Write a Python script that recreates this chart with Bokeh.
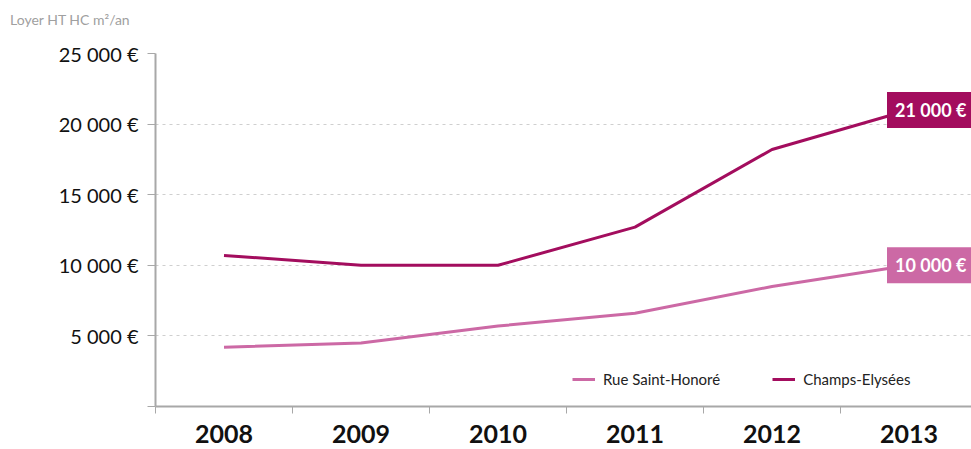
from bokeh.plotting import figure
from bokeh.layouts import column
from bokeh.models import (ColumnDataSource, FixedTicker, Range1d, Label, Legend, LegendItem, Div)
from bokeh.embed import file_html
from bokeh.resources import INLINE

years = ["2008", "2009", "2010", "2011", "2012", "2013"]
saint_honore = [4200, 4500, 5700, 6600, 8500, 10000]
champs_elysees = [10700, 10000, 10000, 12700, 18200, 21000]
y_ticks = [0, 5000, 10000, 15000, 20000, 25000]
y_tick_labels = ["", "5 000 €", "10 000 €", "15 000 €", "20 000 €", "25 000 €"]
end_labels = ["10 000 €", "21 000 €"]
y_axis_title = "Loyer HT HC m²/an"

DARK = "#A30D5E"
PINK = "#CC69A5"
FONT = "Lato"

xs = list(range(len(years)))

header = Div(text=('<div style="font-family:Lato;font-size:14px;color:#A0A0A0;'
                   'padding:11px 0 0 10px;line-height:17px;white-space:nowrap;">'
                   + y_axis_title + '</div>'),
             width=971, height=35, margin=0)

p = figure(width=971, height=414, output_backend="svg", toolbar_location=None,
           x_range=Range1d(-0.5, -0.5 + 816 / 137), y_range=Range1d(0, 25000),
           min_border_left=155, min_border_right=0, min_border_top=18, min_border_bottom=43,
           margin=0)
p.outline_line_color = None
p.background_fill_color = "white"

src = ColumnDataSource(dict(x=xs, sh=saint_honore, ce=champs_elysees))
r1 = p.line("x", "sh", source=src, line_color=PINK, line_width=3)
r2 = p.line("x", "ce", source=src, line_color=DARK, line_width=3)

# axes
xa = p.xaxis[0]
xa.ticker = FixedTicker(ticks=xs, minor_ticks=[i - 0.5 for i in range(len(years) + 1)])
xa.major_label_overrides = {i: y for i, y in enumerate(years)}
xa.major_tick_line_color = None
xa.minor_tick_in = 0
xa.minor_tick_out = 7
xa.minor_tick_line_color = "#A8A8A8"
xa.axis_line_color = "#A8A8A8"
xa.axis_line_width = 2
xa.major_label_text_font = FONT
xa.major_label_text_font_style = "bold"
xa.major_label_text_font_size = "25px"
xa.major_label_text_color = "#111111"
xa.major_label_standoff = 11

ya = p.yaxis[0]
ya.ticker = FixedTicker(ticks=y_ticks)
ya.major_label_overrides = {t: l for t, l in zip(y_ticks, y_tick_labels)}
ya.major_tick_in = 0
ya.major_tick_out = 8
ya.major_tick_line_color = "#A8A8A8"
ya.minor_tick_line_color = None
ya.axis_line_color = "#A8A8A8"
ya.axis_line_width = 2
ya.major_label_text_font = FONT
ya.major_label_text_font_size = "20px"
ya.major_label_text_color = "#111111"
ya.major_label_standoff = 9

p.xgrid.grid_line_color = None
p.ygrid.grid_line_color = "#CFCFCF"
p.ygrid.grid_line_dash = "3 4"
p.ygrid.grid_line_width = 1

# legend
legend = Legend(items=[LegendItem(label="Rue Saint-Honoré", renderers=[r1]),
                       LegendItem(label="Champs-Elysées", renderers=[r2])],
                orientation="horizontal", location=(417, 18),
                label_text_font=FONT, label_text_font_size="15px", label_text_color="#222222",
                label_text_font_style="normal",
                glyph_width=23, glyph_height=10, label_standoff=8, spacing=52,
                padding=0, margin=0, border_line_color=None, background_fill_alpha=0)
p.add_layout(legend)

# end labels
for val, txt, col in [(saint_honore[-1], end_labels[0], PINK), (champs_elysees[-1], end_labels[1], DARK)]:
    p.add_layout(Label(x=xs[-1], y=val, text=txt, x_offset=-22, text_align="left",
                       text_baseline="middle", text_color="white", text_font=FONT,
                       text_font_style="bold", text_font_size="18px",
                       background_fill_color=col, padding=(8, 7)))

layout = column(header, p, spacing=0, margin=0)
open("out.html", "w").write(file_html(layout, INLINE))
